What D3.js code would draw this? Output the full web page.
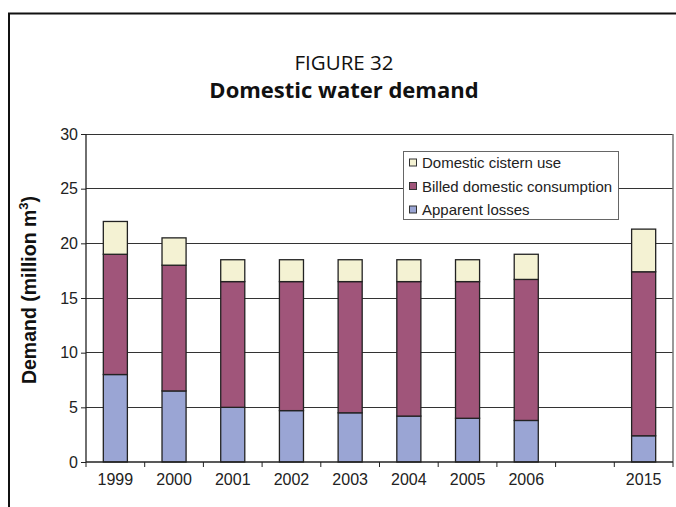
<!DOCTYPE html>
<html>
<head>
<meta charset="utf-8">
<script src="https://cdn.jsdelivr.net/npm/d3@7"></script>
<style>
  html, body { margin: 0; padding: 0; background: #fff; }
  svg { display: block; }
</style>
</head>
<body>
<svg id="chart" width="676" height="507"></svg>
<script>
// Categories (the empty slot leaves the gap between 2006 and 2015)
const categories = ["1999", "2000", "2001", "2002", "2003", "2004", "2005", "2006", "", "2015"];

// Stacked series, million m³ (null where there is no bar)
const apparentLosses  = [8.0, 6.5, 5.0, 4.7, 4.5, 4.2, 4.0, 3.8, null, 2.4];
const billedDomestic  = [11.0, 11.5, 11.5, 11.8, 12.0, 12.3, 12.5, 12.9, null, 15.0];
const cisternUse      = [3.0, 2.5, 2.0, 2.0, 2.0, 2.0, 2.0, 2.3, null, 3.9];

const seriesNames  = ["Apparent losses", "Billed domestic consumption", "Domestic cistern use"];
const seriesColors = ["#9aa5d4", "#a0557a", "#f4f2d3"];

const yTicks = [0, 5, 10, 15, 20, 25, 30];

const svg = d3.select("#chart");
const W = 676, H = 507;
const plot = { left: 86, right: 673, top: 134, bottom: 462 };

// Outer figure frame (continues off the right and bottom edges)
svg.append("path")
  .attr("d", `M9,${H + 5} L9,13.5 L${W + 5},13.5`)
  .attr("fill", "none")
  .attr("stroke", "#111")
  .attr("stroke-width", 2);

// Titles
svg.append("text")
  .attr("x", 344).attr("y", 70)
  .attr("text-anchor", "middle")
  .style("font-family", "'Open Sans', 'Noto Sans', sans-serif")
  .style("font-size", "20.5px")
  .attr("fill", "#111")
  .text("FIGURE 32");

svg.append("text")
  .attr("x", 344).attr("y", 98)
  .attr("text-anchor", "middle")
  .style("font-family", "'Open Sans', 'Noto Sans', sans-serif")
  .style("font-size", "22px")
  .style("font-weight", "bold")
  .attr("fill", "#111")
  .text("Domestic water demand");

// Scales
const x = d3.scaleBand()
  .domain(categories)
  .range([plot.left, plot.right])
  .paddingInner(0.59)
  .paddingOuter(0.295);

const y = d3.scaleLinear()
  .domain([0, 30])
  .range([plot.bottom, plot.top]);

// Gridlines
svg.append("g")
  .selectAll("line")
  .data(yTicks.filter(d => d > 0))
  .join("line")
  .attr("x1", plot.left).attr("x2", plot.right)
  .attr("y1", d => y(d)).attr("y2", d => y(d))
  .attr("stroke", "#333")
  .attr("stroke-width", 1)
  .attr("shape-rendering", "crispEdges");

// Right border of the plot area
svg.append("line")
  .attr("x1", plot.right).attr("x2", plot.right)
  .attr("y1", plot.top).attr("y2", plot.bottom)
  .attr("stroke", "#777")
  .attr("stroke-width", 1.5);

// Stack data
const rows = categories.map((c, i) => ({
  cat: c,
  losses: apparentLosses[i],
  billed: billedDomestic[i],
  cistern: cisternUse[i]
})).filter(r => r.losses !== null);

const stack = d3.stack().keys(["losses", "billed", "cistern"]);
const layers = stack(rows);

const barG = svg.append("g");
layers.forEach((layer, k) => {
  barG.append("g")
    .selectAll("rect")
    .data(layer)
    .join("rect")
    .attr("x", d => x(d.data.cat))
    .attr("width", x.bandwidth())
    .attr("y", d => y(d[1]))
    .attr("height", d => y(d[0]) - y(d[1]))
    .attr("fill", seriesColors[k])
    .attr("stroke", "#222")
    .attr("stroke-width", 1.3);
});

// Y axis
const yAxis = d3.axisLeft(y)
  .tickValues(yTicks)
  .tickSize(5)
  .tickPadding(3)
  .tickFormat(d3.format("d"));

const yG = svg.append("g")
  .attr("transform", `translate(${plot.left},0)`)
  .call(yAxis);
yG.select(".domain").attr("stroke", "#222").attr("stroke-width", 1.3).attr("d", `M0,${plot.top}V${plot.bottom}`);
yG.selectAll(".tick line").attr("stroke", "#222");
yG.selectAll(".tick text")
  .style("font-family", "'Liberation Sans', Arial, sans-serif")
  .style("font-size", "16px")
  .attr("fill", "#222");

// X axis: ticks sit on category boundaries, labels in the band centres
const boundaries = categories.map(c => x(c) - x.step() * x.paddingInner() / 2)
  .concat([plot.right]);
const xG = svg.append("g");
xG.append("line")
  .attr("x1", plot.left).attr("x2", plot.right)
  .attr("y1", plot.bottom).attr("y2", plot.bottom)
  .attr("stroke", "#222").attr("stroke-width", 1.3);
xG.selectAll("line.tick")
  .data(boundaries)
  .join("line")
  .attr("class", "tick")
  .attr("x1", d => d).attr("x2", d => d)
  .attr("y1", plot.bottom).attr("y2", plot.bottom + 5)
  .attr("stroke", "#222");
xG.selectAll("text")
  .data(categories)
  .join("text")
  .attr("x", d => x(d) + x.bandwidth() / 2)
  .attr("y", 485)
  .attr("text-anchor", "middle")
  .style("font-family", "'Liberation Sans', Arial, sans-serif")
  .style("font-size", "16px")
  .attr("fill", "#222")
  .text(d => d);

// Y axis title
const yTitle = svg.append("text")
  .attr("transform", "translate(36,290) rotate(-90)")
  .attr("text-anchor", "middle")
  .style("font-family", "'Liberation Sans', Arial, sans-serif")
  .style("font-size", "19.5px")
  .style("font-weight", "bold")
  .attr("fill", "#111");
yTitle.append("tspan").text("Demand (million m");
yTitle.append("tspan").attr("dy", -8).style("font-size", "13px").text("3");
yTitle.append("tspan").attr("dy", 8).text(")");

// Legend
const legend = svg.append("g").attr("transform", "translate(403.5,151.5)");
legend.append("rect")
  .attr("width", 215).attr("height", 68)
  .attr("fill", "#fff")
  .attr("stroke", "#666")
  .attr("stroke-width", 1);

const legendOrder = [2, 1, 0];
legendOrder.forEach((k, i) => {
  const cy = 11 + i * 23.5;
  legend.append("rect")
    .attr("x", 6).attr("y", cy - 3.5)
    .attr("width", 7).attr("height", 7)
    .attr("fill", seriesColors[k])
    .attr("stroke", "#333")
    .attr("stroke-width", 1);
  legend.append("text")
    .attr("x", 18.5).attr("y", cy + 5.5)
    .style("font-family", "'Liberation Sans', Arial, sans-serif")
    .style("font-size", "15px")
    .attr("fill", "#222")
    .text(seriesNames[k]);
});
</script>
</body>
</html>
